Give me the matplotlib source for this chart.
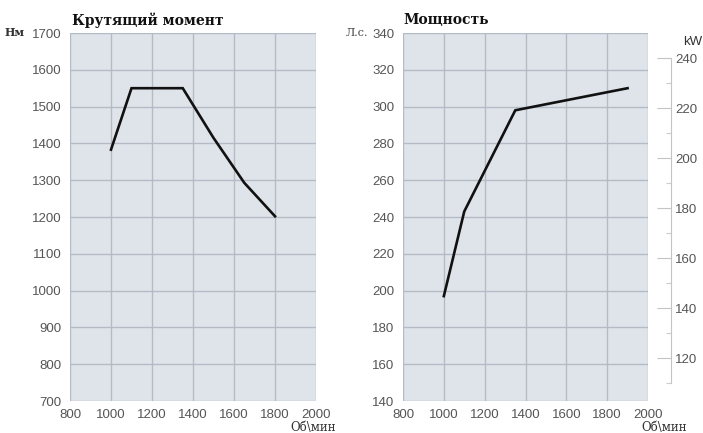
import matplotlib
matplotlib.use("Agg")
import matplotlib.pyplot as plt
from matplotlib.ticker import FixedLocator

# Data
rpm_torque = [1000, 1100, 1350, 1500, 1650, 1800]
torque_nm = [1383, 1550, 1550, 1415, 1293, 1202]
rpm_power = [1000, 1100, 1350, 1900]
power_hp = [197, 243, 298, 310]
x_ticks = [800, 1000, 1200, 1400, 1600, 1800, 2000]
torque_ticks = [700, 800, 900, 1000, 1100, 1200, 1300, 1400, 1500, 1600, 1700]
hp_ticks = [140, 160, 180, 200, 220, 240, 260, 280, 300, 320, 340]
kw_ticks = [120, 140, 160, 180, 200, 220, 240]
kw_minor = [110, 130, 150, 170, 190, 210, 230]
HP_PER_KW = 1.36

W, H = 703, 433
fig = plt.figure(figsize=(W / 100, H / 100), dpi=100)
fig.patch.set_facecolor("white")

bg = "#dfe4ea"
grid_c = "#b3bcc6"
tick_c = "#555555"
serif = ["DejaVu Serif"]
sans = ["Liberation Sans", "DejaVu Sans"]
FS = 9.5


def make_ax(left_px, right_px):
    ax = fig.add_axes([left_px / W, 1 - 401 / H, (right_px - left_px) / W, (401 - 33) / H])
    ax.set_facecolor(bg)
    for s in ax.spines.values():
        s.set_visible(False)
    ax.set_xlim(800, 2000)
    ax.set_xticks(x_ticks)
    ax.grid(True, color=grid_c, linewidth=1.0)
    ax.set_axisbelow(True)
    ax.tick_params(axis="both", length=0, labelsize=FS, labelcolor=tick_c, pad=6)
    return ax


# Left: torque
ax1 = make_ax(70, 316)
ax1.set_ylim(700, 1700)
ax1.set_yticks(torque_ticks)
for lab in ax1.get_xticklabels() + ax1.get_yticklabels():
    lab.set_family(sans)
ax1.plot(rpm_torque, torque_nm, color="#111111", linewidth=1.9, solid_joinstyle="miter")
fig.text(72 / W, 1 - 20 / H, "Крутящий момент", family=serif, fontweight="bold",
         fontsize=10, va="center", ha="left", color="#111111")
fig.text(5 / W, 1 - 33 / H, "Нм", family=serif, fontweight="bold",
         fontsize=8, va="center", ha="left", color="#333333")
fig.text(336 / W, 1 - 428 / H, "Об\\мин", family=serif, fontsize=8.5,
         va="center", ha="right", color="#333333")

# Right: power
ax2 = make_ax(403, 648)
ax2.set_ylim(140, 340)
ax2.set_yticks(hp_ticks)
for lab in ax2.get_xticklabels() + ax2.get_yticklabels():
    lab.set_family(sans)
ax2.plot(rpm_power, power_hp, color="#111111", linewidth=1.9, solid_joinstyle="miter")
fig.text(403 / W, 1 - 20 / H, "Мощность", family=serif, fontweight="bold",
         fontsize=10, va="center", ha="left", color="#111111")
fig.text(346 / W, 1 - 33 / H, "Л.с.", family=serif,
         fontsize=8, va="center", ha="left", color="#444444")
fig.text(687 / W, 1 - 428 / H, "Об\\мин", family=serif, fontsize=8.5,
         va="center", ha="right", color="#333333")

# kW secondary axis
ax3 = ax2.twinx()
ax3.set_ylim(140 / HP_PER_KW, 340 / HP_PER_KW)
ax3.patch.set_visible(False)
for k, s in ax3.spines.items():
    s.set_visible(k == "right")
ax3.spines["right"].set_position(("axes", (671 - 403) / 245))
ax3.spines["right"].set_bounds(110, 240)
ax3.spines["right"].set_color("#c4c4c4")
ax3.yaxis.set_major_locator(FixedLocator(kw_ticks))
ax3.yaxis.set_minor_locator(FixedLocator(kw_minor))
ax3.tick_params(axis="y", which="major", direction="in", length=10, width=0.8,
                color="#c4c4c4", labelsize=FS, labelcolor=tick_c, pad=3)
ax3.tick_params(axis="y", which="minor", direction="in", length=3.5, width=0.8,
                color="#cccccc")
for lab in ax3.get_yticklabels():
    lab.set_family(sans)
fig.text(683 / W, 1 - 42 / H, "kW", family=sans, fontsize=FS,
         va="center", ha="left", color="#333333")

fig.savefig("out.png", dpi=100)
